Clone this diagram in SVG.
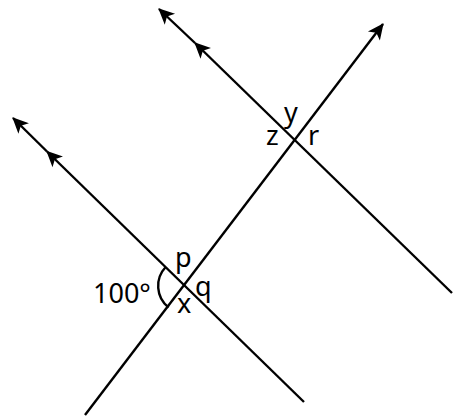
<svg xmlns="http://www.w3.org/2000/svg" width="461" height="419" viewBox="0 0 461 419">
<style>
.ln{stroke:#000;stroke-width:2.4;fill:none;stroke-linecap:butt}
.lbl{font-family:"Noto Sans","Open Sans",sans-serif;font-size:27px;fill:#000}
</style>
<defs>
<marker id="ah" markerUnits="userSpaceOnUse" markerWidth="20" markerHeight="20" viewBox="-17 -10 20 20" refX="0" refY="0" orient="auto">
<path d="M1,0 L-15,-7.5 L-11,0 L-15,7.5 Z" fill="#000"/>
</marker>
</defs>
<rect width="461" height="419" fill="#fff"/>
<g id="connectors">
<path class="ln" d="M304,402 L47,151.5" marker-end="url(#ah)"/>
<path class="ln" d="M47,151.5 L13,118" marker-end="url(#ah)"/>
<path class="ln" d="M452,293 L195,43" marker-end="url(#ah)"/>
<path class="ln" d="M195,43 L159,9" marker-end="url(#ah)"/>
<path class="ln" d="M85,415 L383,24" marker-end="url(#ah)"/>
</g>
<g id="angle-100">
<path class="ln" d="M165.7,267 A27.5,27.5 0 0 0 168.6,307.5"/>
<text class="lbl" x="93" y="303">100°</text>
</g>
<g id="labels-lower">
<text class="lbl" x="175" y="267">p</text>
<text class="lbl" x="195" y="296">q</text>
<text class="lbl" x="177" y="313">x</text>
</g>
<g id="labels-upper">
<text class="lbl" x="284" y="122">y</text>
<text class="lbl" x="266" y="145">z</text>
<text class="lbl" x="308" y="145">r</text>
</g>
</svg>
